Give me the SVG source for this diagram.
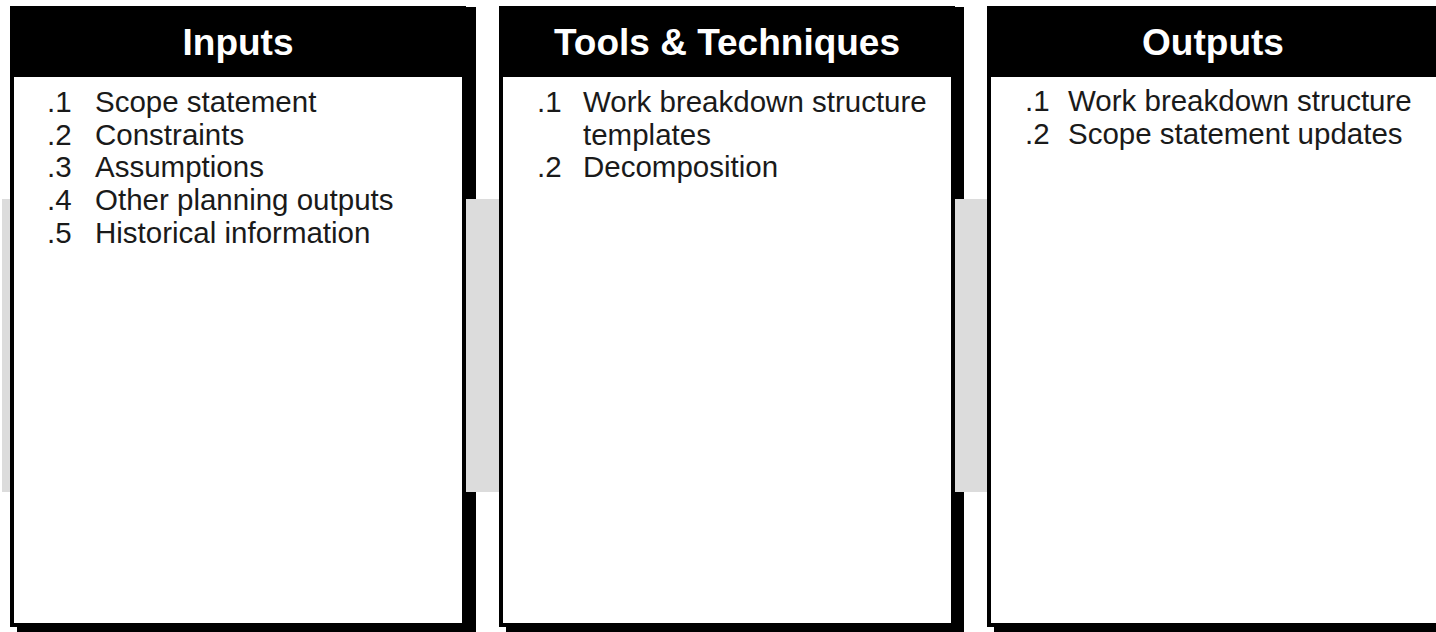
<svg xmlns="http://www.w3.org/2000/svg" width="1436" height="632" viewBox="0 0 1436 632">
  <style>
    .shadow { fill: #000; }
    .frame { fill: #fff; stroke: #000; stroke-width: 4; }
    .head { fill: #000; }
    .title { font-family: "Liberation Sans", Arial, sans-serif; font-weight: bold; font-size: 37px; fill: #fff; text-anchor: middle; }
    .item { font-family: "Liberation Sans", Arial, sans-serif; font-size: 29.5px; fill: #1a1a1a; }
    .bar { fill: #dcdcdc; }
  </style>
  <rect width="1436" height="632" fill="#fff"/>
  <g id="shadows">
    <rect class="shadow" x="17" y="7" width="459" height="633"/>
    <rect class="shadow" x="506" y="7" width="458" height="633"/>
    <rect class="shadow" x="994" y="7" width="459" height="633"/>
  </g>
  <g id="connectors">
    <rect class="bar" x="2" y="199" width="8" height="293"/>
    <rect class="bar" x="466" y="199" width="33" height="293"/>
    <rect class="bar" x="955" y="199" width="32" height="293"/>
  </g>
  <g id="inputs">
    <rect class="frame" x="12" y="8" width="452" height="617"/>
    <rect class="head" x="10" y="6" width="456" height="71"/>
    <text class="title" x="238" y="55">Inputs</text>
    <text class="item" x="47" y="112">.1</text><text class="item" x="95" y="112">Scope statement</text>
    <text class="item" x="47" y="145">.2</text><text class="item" x="95" y="145">Constraints</text>
    <text class="item" x="47" y="177">.3</text><text class="item" x="95" y="177">Assumptions</text>
    <text class="item" x="47" y="210">.4</text><text class="item" x="95" y="210">Other planning outputs</text>
    <text class="item" x="47" y="243">.5</text><text class="item" x="95" y="243">Historical information</text>
  </g>
  <g id="tools">
    <rect class="frame" x="501" y="8" width="452" height="617"/>
    <rect class="head" x="499" y="6" width="456" height="71"/>
    <text class="title" x="727" y="55">Tools &amp; Techniques</text>
    <text class="item" x="537" y="112">.1</text><text class="item" x="583" y="112">Work breakdown structure</text>
    <text class="item" x="583" y="145">templates</text>
    <text class="item" x="537" y="177">.2</text><text class="item" x="583" y="177">Decomposition</text>
  </g>
  <g id="outputs">
    <rect class="frame" x="989" y="8" width="452" height="617"/>
    <rect class="head" x="987" y="6" width="456" height="71"/>
    <text class="title" x="1213" y="55">Outputs</text>
    <text class="item" x="1025" y="111">.1</text><text class="item" x="1068" y="111">Work breakdown structure</text>
    <text class="item" x="1025" y="144">.2</text><text class="item" x="1068" y="144">Scope statement updates</text>
  </g>
</svg>
